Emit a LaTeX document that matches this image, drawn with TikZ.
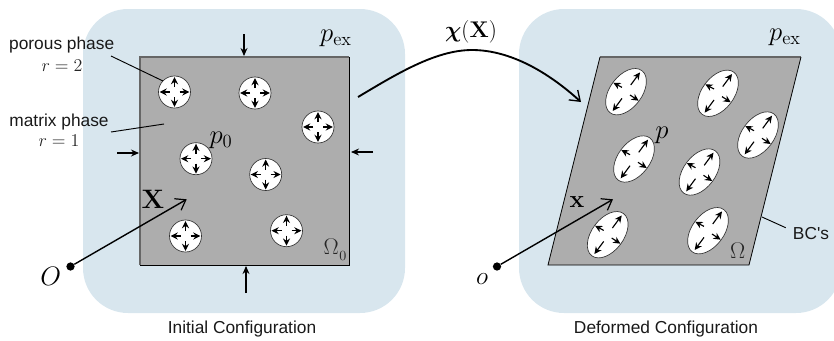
\RequirePackage{fix-cm}
\documentclass[tikz,border=0pt]{standalone}
\usepackage{amsmath,bm}
\usepackage[no-math]{fontspec}
\newfontfamily\labfont{Liberation Sans}
\usetikzlibrary{arrows.meta}
\definecolor{fluidblue}{HTML}{D8E6EE}
\definecolor{solidgrey}{HTML}{ADADAD}
\definecolor{solidedge}{HTML}{666666}
\tikzset{
  x=0.75pt,y=-0.75pt,
  bubble/.style={draw=black!80,line width=0.5pt,fill=white},
  tiny arrow/.style={line width=0.85pt,-{Stealth[length=5.4pt,width=5.2pt]}},
  load arrow/.style={line width=0.85pt,-{Stealth[length=6pt,width=5.2pt]}},
  leader/.style={line width=0.7pt,black},
  position arrow/.style={line width=1.05pt,-{Straight Barb[length=7pt,width=10pt,line width=0.9pt]}},
  origin/.style={circle,fill=black,inner sep=0pt,minimum size=6.2pt},
  sans label/.style={font=\labfont\fontsize{13}{15}\selectfont,inner sep=0pt,text=black!90},
  math label/.style={font=\fontsize{13.5}{16}\selectfont,inner sep=0pt,text=black!85},
  big math/.style={font=\fontsize{20}{24}\selectfont,inner sep=0pt},
  mid math/.style={font=\fontsize{17}{20}\selectfont,inner sep=0pt},
  pics/roundhole/.style={code={
    \draw[bubble] (0,0) circle [radius=16];
    \draw[tiny arrow] (0,-5) -- (0,-15);
    \draw[tiny arrow] (0,5) -- (0,15);
    \draw[tiny arrow] (-5,0) -- (-15,0);
    \draw[tiny arrow] (5,0) -- (15,0);
  }},
  pics/ovalhole/.style={code={
    \draw[bubble,rotate=53] (0,0) ellipse [x radius=26.4,y radius=16];
    \draw[tiny arrow] (4.7,-6.7) -- (14,-19.3);
    \draw[tiny arrow] (-4,6.7) -- (-13.3,19.3);
    \draw[tiny arrow] (-4,-4.3) -- (-12.7,-9);
    \draw[tiny arrow] (4,3.3) -- (12.7,9);
  }},
}
\begin{document}
\begin{tikzpicture}
\useasboundingbox (0,0) rectangle (834,340);
% fluid regions
\begin{scope}
\clip (0,0) rectangle (834,340);
\fill[fluidblue,rounded corners=33.75pt] (83,9) rectangle (405,313);
\fill[fluidblue,rounded corners=33.75pt] (519,9) rectangle (841,313);
\end{scope}
% solid regions
\fill[solidgrey] (140,57) rectangle (349,265);
\draw[solidedge,line width=0.9pt] (140,265) -- (140,57) -- (349,57);
\draw[black,line width=0.6pt] (349,57) -- (349,265) -- (140,265);
\fill[solidgrey] (600,57) -- (801,57) -- (749,265) -- (548,265) -- cycle;
\draw[solidedge,line width=0.9pt] (600,57) -- (801,57);
\draw[black,line width=0.6pt] (801,57) -- (749,265) -- (548,265) -- (600,57);
% holes
\foreach \px/\py in {174.5/92,255/93,318/127,196/158.7,265.7/174.5,185.5/236,286.5/230.7}
  \pic at (\px,\py) {roundhole};
\foreach \px/\py in {626/91.7,718/93.3,758/135,634/159,699.5/172,607.7/234.7,708/230.7}
  \pic at (\px,\py) {ovalhole};
% loads
\coordinate (topA) at (244,34); \coordinate (topB) at (244,56);
\coordinate (leftA) at (117,153); \coordinate (leftB) at (139,153);
\coordinate (rightA) at (373,152); \coordinate (rightB) at (351,152);
\coordinate (botA) at (246,293); \coordinate (botB) at (246,266);
\draw[load arrow] (topA) -- (topB);
\draw[load arrow] (leftA) -- (leftB);
\draw[load arrow] (rightA) -- (rightB);
\draw[load arrow] (botA) -- (botB);
% labels
\node[sans label] (porous) at (61.7,45) {porous phase};
\node[math label] (r2) at (62,66) {$r=2$};
\node[sans label] (matrix) at (59,121.7) {matrix phase};
\node[math label] (r1) at (59,141) {$r=1$};
\node[sans label] (bcs) at (811,234) {BC's};
\node[sans label] (initial) at (242,329) {Initial Configuration};
\node[sans label] (deformed) at (666,329) {Deformed Configuration};
% leaders
\coordinate (pa) at (111,56); \coordinate (pb) at (163,81);
\coordinate (ma) at (111,132); \coordinate (mb) at (164,124);
\coordinate (ba) at (762,217); \coordinate (bb) at (785.7,227.7);
\draw[leader] (pa) -- (pb);
\draw[leader] (ma) -- (mb);
\draw[leader] (ba) -- (bb);
% math labels
\node[big math] (pexA) at (336,38) {$p_{\mathrm{ex}}$};
\node[big math] (pexB) at (785,37) {$p_{\mathrm{ex}}$};
\node[big math] (pzero) at (221,140) {$p_0$};
\node[big math] (pdef) at (662,135) {$p$};
\node[font=\fontsize{17}{20}\selectfont,inner sep=0pt] (chi) at (471,32) {$\bm{\chi}(\mathbf{X})$};
\node[mid math,text=black!85] (omegaz) at (335,250) {$\Omega$\kern0.5pt\lower4.5pt\hbox{\fontsize{10.5}{12}\selectfont 0}};
\node[mid math,text=black!85] (omega) at (737.7,250.7) {$\Omega$};
\node[big math] (bigX) at (153,199) {$\mathbf{X}$};
\node[font=\fontsize{18.5}{22}\selectfont,inner sep=0pt] (smallx) at (577,202) {$\mathbf{x}$};
\node[big math] (bigO) at (50.7,276) {$O$};
\node[font=\fontsize{19}{22}\selectfont,inner sep=0pt] (smallo) at (482,279) {$o$};
% position vectors
\node[origin] (dotO) at (70.5,266.5) {};
\node[origin] (doto) at (497,266.5) {};
\coordinate (tipX) at (186.7,199.3);
\coordinate (tipx) at (613,199.3);
\draw[position arrow] (dotO) -- (tipX);
\draw[position arrow] (doto) -- (tipx);
% map
\coordinate (mapA) at (358,97);
\coordinate (mapC) at (472,50);
\coordinate (mapB) at (581,102);
\draw[line width=1.4pt,-{Straight Barb[length=7pt,width=10pt,line width=1pt]}] (mapA) .. controls (395,75) and (435,50) .. (mapC) .. controls (510,50) and (548,72) .. (mapB);
\end{tikzpicture}
\end{document}
